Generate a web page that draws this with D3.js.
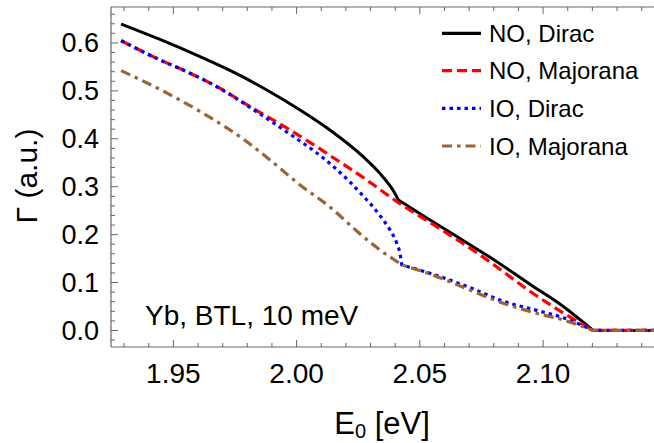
<!DOCTYPE html>
<html>
<head>
<meta charset="utf-8">
<script src="https://cdn.jsdelivr.net/npm/d3@7"></script>
<style>
  body { margin: 0; background: #fff; }
  svg { display: block; font-family: "Liberation Sans", Arial, sans-serif; }
</style>
</head>
<body>
<div id="chart"></div>
<script>
// values (E0 in eV, Gamma in a.u.)
var noDiracE = [1.9288, 1.9446, 1.9608, 1.9750, 1.9879, 2.0014, 2.0135, 2.0270, 2.0338, 2.0392, 2.0413, 2.0528, 2.0663, 2.0811, 2.0945, 2.1082, 2.1203, 2.145];
var noDiracG = [0.6396, 0.6073, 0.5714, 0.5374, 0.5019, 0.4601, 0.4184, 0.3627, 0.3278, 0.2920, 0.2723, 0.2348, 0.1920, 0.1440, 0.0970, 0.0501, 0.0, 0.0];

var noMajE = [1.9288, 1.9446, 1.9554, 1.9689, 1.9811, 1.9960, 2.0095, 2.0135, 2.0270, 2.0338, 2.0406, 2.0541, 2.0744, 2.0811, 2.0945, 2.1082, 2.1203, 2.145];
var noMajG = [0.6048, 0.5645, 0.5401, 0.5054, 0.4670, 0.4226, 0.3788, 0.3652, 0.3193, 0.2943, 0.2692, 0.2254, 0.1576, 0.1331, 0.0824, 0.0365, 0.0, 0.0];

var ioDiracE = [1.9288, 1.9446, 1.9554, 1.9689, 1.9811, 1.9960, 2.0095, 2.0135, 2.0216, 2.0270, 2.0338, 2.0379, 2.0406, 2.0419, 2.0427, 2.0541, 2.0703, 2.0838, 2.0974, 2.1082, 2.1203, 2.145];
var ioDiracG = [0.6048, 0.5645, 0.5401, 0.5050, 0.4654, 0.4142, 0.3652, 0.3485, 0.3099, 0.2807, 0.2400, 0.2097, 0.1826, 0.1617, 0.1367, 0.1194, 0.0895, 0.0610, 0.0420, 0.0265, 0.0, 0.0];

var ioMajE = [1.9288, 1.9446, 1.9608, 1.9783, 1.9892, 2.0014, 2.0135, 2.0244, 2.0297, 2.0338, 2.0392, 2.0427, 2.0541, 2.0703, 2.0838, 2.0974, 2.1082, 2.1203, 2.145];
var ioMajG = [0.5422, 0.5029, 0.4570, 0.3996, 0.3558, 0.3036, 0.2577, 0.2076, 0.1846, 0.1679, 0.1492, 0.1367, 0.1179, 0.0845, 0.0568, 0.0359, 0.0219, 0.0, 0.0];

// energies where a curve has a sharp corner
var noDiracKinks = [2.0413, 2.1203];
var noMajKinks = [2.1203];
var ioDiracKinks = [2.0427, 2.1203];
var ioMajKinks = [2.0427, 2.1203];

var seriesNames = ["NO, Dirac", "NO, Majorana", "IO, Dirac", "IO, Majorana"];
var seriesColors = ["#000000", "#ff0000", "#0000ff", "#996633"];
var seriesDash = [null, "10,5", "3.5,4", "10,5,3.5,5"];

var xMajor = [1.95, 2.00, 2.05, 2.10];
var xMinor = d3.range(1.93, 2.145, 0.01);
var yMajor = [0.0, 0.1, 0.2, 0.3, 0.4, 0.5, 0.6];
var yMinor = d3.range(-0.02, 0.67, 0.02);

var width = 654, height = 443;
// plot box (note: "top" is reserved on window, so use prefixed names)
var pLeft = 111, pRight = 654, pTop = 7, pBottom = 347;

var svg = d3.select("#chart").append("svg")
    .attr("width", width)
    .attr("height", height);

var x = d3.scaleLinear().domain([1.9247, 2.145]).range([pLeft, pRight]);
var y = d3.scaleLinear().domain([-0.0345, 0.675]).range([pBottom, pTop]);

var frameColor = "#666";

// frame lines
svg.append("line").attr("x1", pLeft).attr("x2", pLeft).attr("y1", pTop).attr("y2", pBottom)
    .attr("stroke", frameColor).attr("stroke-width", 1.2);
svg.append("line").attr("x1", pLeft).attr("x2", pRight).attr("y1", pBottom).attr("y2", pBottom)
    .attr("stroke", frameColor).attr("stroke-width", 1.2);
svg.append("line").attr("x1", pLeft).attr("x2", pRight).attr("y1", pTop).attr("y2", pTop)
    .attr("stroke", frameColor).attr("stroke-width", 1.2);

// ticks
function isMajor(v, list) { return list.some(m => Math.abs(m - v) < 1e-6); }

xMinor.forEach(function(v) {
    var len = isMajor(v, xMajor) ? 7 : 4;
    svg.append("line").attr("x1", x(v)).attr("x2", x(v)).attr("y1", pBottom).attr("y2", pBottom - len)
        .attr("stroke", frameColor).attr("stroke-width", 1);
    svg.append("line").attr("x1", x(v)).attr("x2", x(v)).attr("y1", pTop).attr("y2", pTop + len)
        .attr("stroke", frameColor).attr("stroke-width", 1);
});
yMinor.forEach(function(v) {
    var len = isMajor(v, yMajor) ? 7 : 4;
    svg.append("line").attr("x1", pLeft).attr("x2", pLeft + len).attr("y1", y(v)).attr("y2", y(v))
        .attr("stroke", frameColor).attr("stroke-width", 1);
});

// tick labels
svg.selectAll(".xlab").data(xMajor).enter().append("text")
    .attr("x", d => x(d)).attr("y", 383)
    .attr("text-anchor", "middle")
    .style("font-size", "28px")
    .text(d => d3.format(".2f")(d));

svg.selectAll(".ylab").data(yMajor).enter().append("text")
    .attr("x", 99).attr("y", d => y(d) + 9.5)
    .attr("text-anchor", "end")
    .style("font-size", "27px")
    .text(d => d3.format(".1f")(d));

// axis titles
var xt = svg.append("text").attr("x", 382).attr("y", 434)
    .attr("text-anchor", "middle").style("font-size", "31px");
xt.append("tspan").text("E");
xt.append("tspan").attr("dy", 4).style("font-size", "20px").text("0");
xt.append("tspan").attr("dy", -4).text(" [eV]");

svg.append("text")
    .attr("transform", "translate(37,176) rotate(-90)")
    .attr("text-anchor", "middle")
    .style("font-size", "30px")
    .text("Γ (a.u.)");

// curves
svg.append("clipPath").attr("id", "clip").append("rect")
    .attr("x", pLeft).attr("y", pTop).attr("width", pRight - pLeft).attr("height", pBottom - pTop);

var allSeries = [
    {E: noDiracE, G: noDiracG, kinks: noDiracKinks},
    {E: noMajE, G: noMajG, kinks: noMajKinks},
    {E: ioDiracE, G: ioDiracG, kinks: ioDiracKinks},
    {E: ioMajE, G: ioMajG, kinks: ioMajKinks}
];

var line = d3.line()
    .x(d => x(d[0]))
    .y(d => y(d[1]))
    .curve(d3.curveMonotoneX);

// smooth pieces between the corners, joined into one path
function pathWithKinks(s) {
    var pts = s.E.map((e, j) => [e, s.G[j]]);
    var d = "", start = 0;
    s.kinks.forEach(function(k) {
        var idx = s.E.findIndex(e => Math.abs(e - k) < 1e-6);
        d += line(pts.slice(start, idx + 1)).replace(/^M/, start == 0 ? "M" : "L");
        start = idx;
    });
    d += line(pts.slice(start)).replace(/^M/, "L");
    return d;
}

var g = svg.append("g").attr("clip-path", "url(#clip)");
allSeries.forEach(function(s, i) {
    g.append("path")
        .attr("fill", "none")
        .attr("stroke", seriesColors[i])
        .attr("stroke-width", i == 0 ? 3 : 3.2)
        .attr("stroke-dasharray", seriesDash[i])
        .attr("d", pathWithKinks(s));
});

// legend
var legendY = [33.3, 70.7, 108.3, 146];
seriesNames.forEach(function(name, i) {
    svg.append("line")
        .attr("x1", 442).attr("x2", 481)
        .attr("y1", legendY[i]).attr("y2", legendY[i])
        .attr("stroke", seriesColors[i])
        .attr("stroke-width", 3.2)
        .attr("stroke-dasharray", seriesDash[i]);
    svg.append("text")
        .attr("x", 489).attr("y", legendY[i] + 8.5)
        .style("font-size", "24px")
        .text(name);
});

// inset label
svg.append("text")
    .attr("x", 145).attr("y", 325)
    .style("font-size", "28px")
    .text("Yb, BTL, 10 meV");
</script>
</body>
</html>
